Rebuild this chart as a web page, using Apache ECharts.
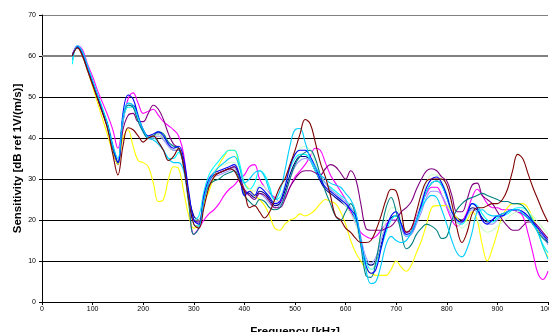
<!DOCTYPE html>
<html>
<head>
<meta charset="utf-8">
<script src="https://cdn.jsdelivr.net/npm/echarts@6/dist/echarts.min.js"></script>
<style>
  html, body { margin: 0; padding: 0; background: #fff; }
  #chart { width: 549px; height: 332px; }
</style>
</head>
<body>
<div id="chart"></div>
<script>
// frequency grid, kHz (60..1000 step 10)
const freqs = [];
for (let f = 60; f <= 1000; f += 10) freqs.push(f);

const navy = [
  60.5, 62, 60, 56.5, 53, 49.5, 46, 42.5, 37, 33.5,
  44, 48, 48, 45, 42, 40.5, 40.5, 41, 40, 38,
  37, 37, 34, 26, 21, 20, 25.5, 29.5, 31, 31.5,
  32, 32.5, 33, 30.5, 27, 26.5, 25.5, 27, 26.5, 25,
  23.5, 24, 27, 31, 34, 35.5, 35.5, 34.5, 32, 29.5,
  27.5, 26.5, 25.5, 24.5, 23.5, 22, 20, 14, 10, 9,
  10, 14, 18, 20.5, 21, 19, 17, 17.5, 20, 23.5,
  27, 29, 29.5, 28.5, 25.5, 22, 20.5, 20, 21.5, 23,
  22.5, 20.5, 19.5, 20, 21, 21.5, 22, 22.5, 22, 21.5,
  20.5, 19, 17.5, 16, 14.5
];
const magenta = [
  60, 62.5, 61.5, 58, 55, 51.5, 48.5, 45.5, 42, 37.5,
  44, 49.5, 51, 48.5, 46, 46.5, 47, 45.5, 44, 43,
  42, 40.5, 36, 25, 16.5, 18, 20, 21.5, 22.5, 24,
  26, 27.5, 28.5, 30, 31, 33, 33.5, 30, 28, 26.5,
  25.5, 24.5, 25.5, 28, 30.5, 32, 33.5, 35.5, 37.5, 37,
  34, 31, 29, 27, 25, 22, 19, 17, 16, 15.5,
  16, 17.5, 19, 20, 20, 18.5, 17, 18, 21, 24,
  26.5, 28, 28, 26, 23, 20, 18.5, 19.5, 22, 25.5,
  27.5, 26, 24, 23, 23, 22.5, 22.5, 22.5, 22, 21,
  17, 12, 7, 5.5, 7.5
];
const yellow = [
  60, 62, 60, 56.5, 52.5, 48.5, 44.5, 40.5, 36.5, 33.5,
  40, 42, 38, 34.5, 34, 33, 29, 24.5, 25, 30,
  33, 32.5, 27, 21, 18, 19, 24, 27, 30.5, 33.5,
  35.5, 37, 37, 33, 29, 27.5, 26, 25, 23.5, 21,
  18, 17.5, 19, 20, 20.5, 21.5, 21, 21.5, 22.5, 24,
  25, 24.5, 24, 22, 19, 15, 12, 10, 8, 7,
  6.5, 6.5, 6.5, 8, 10, 8.5, 7.5, 9, 12, 15,
  19, 23, 23.5, 23.5, 23.5, 22, 20.5, 19.5, 20, 22,
  20, 14, 10, 13, 17, 21, 23, 24, 24, 24,
  23, 20.5, 17.5, 13.5, 11
];
const cyan = [
  58, 62.5, 61, 57.5, 54, 50.5, 47, 43.5, 38.5, 34.5,
  44, 47.5, 47.5, 44.5, 41.5, 40, 40, 39, 37, 35,
  35, 36.5, 33.5, 26, 20, 21, 27, 31, 33, 34.5,
  36, 37, 37, 34, 29, 27.5, 29, 32, 31, 28,
  25, 25.5, 28.5, 32.5, 35, 36, 36, 34.5, 32, 30,
  29, 28, 27, 26, 25, 23, 20, 15, 10, 8,
  9, 13, 17, 20, 21, 18.5, 16, 16.5, 19.5, 23,
  27, 29, 29.5, 28.5, 25.5, 22, 19.5, 19, 21, 24,
  23.5, 21.5, 20, 19.5, 20.5, 21, 21.5, 22.5, 23, 23,
  22, 20, 17, 14, 12
];
const purple = [
  60, 62, 60.5, 57, 53.5, 50, 46.5, 43, 37.5, 34,
  42, 45.5, 46, 44, 44, 46, 48, 47, 44.5, 41,
  38.5, 37.5, 34, 26, 20, 19.5, 25, 29.5, 31, 31.5,
  32, 32.5, 33, 31, 27.5, 26, 25, 26.5, 26, 24.5,
  23, 23, 25, 28, 30, 31.5, 32, 32, 31.5, 31,
  32.5, 33.5, 33, 31.5, 30, 32, 30, 24, 18, 17.5,
  17.5, 17.5, 18, 18.5, 20, 22, 23, 24.5, 27.5, 30,
  32, 32.5, 32, 30.5, 29.5, 26, 22, 22, 25, 28.5,
  29, 26, 25, 24, 22, 20, 18.5, 17.5, 17.5, 18.5,
  19.5, 19.5, 18.5, 17, 15.5
];
const maroon = [
  60, 62, 60, 56.5, 53, 49.5, 46, 42, 36, 31,
  38, 42.5, 42, 40.5, 39, 40, 40.5, 39, 37, 34.5,
  35.5, 37.5, 33, 25, 19, 18, 23, 28, 30.5, 31.5,
  32, 32.5, 32, 29.5, 27, 23, 23.5, 22, 20.5, 22,
  25, 28, 30, 33.5, 37, 41, 44.5, 43.5, 39, 34,
  30.5, 26, 21, 20, 18, 17, 15.5, 14.5, 14.5, 15,
  17.5, 21, 25, 27.5, 27, 22, 17, 18, 22, 26.5,
  29.5, 30, 30, 30, 28.5, 24, 18, 14.5, 17, 21.5,
  23, 23, 23.5, 24, 24, 25, 27.5, 32, 36, 35,
  31.5, 28, 25, 22, 19.5
];
const teal = [
  60, 62, 60.5, 57, 53.5, 50, 46.5, 43, 37.5, 34,
  45, 48, 47.5, 44, 41.5, 40, 40.5, 41.5, 41, 39,
  38, 37.5, 33, 24, 16.5, 18, 25, 28.5, 29.5, 30,
  31, 31.5, 32, 30, 26, 24.5, 23.5, 25, 24.5, 23,
  22.5, 23, 26, 30, 33.5, 35.5, 36.5, 37, 35, 31,
  27, 24, 21, 20, 22, 24, 21, 14, 6.5, 6,
  10, 17, 23, 25.5, 22, 17, 13, 14, 16.5, 18,
  19, 18.5, 17.5, 15.5, 16, 20, 22.5, 24, 25, 25.5,
  26, 26.5, 26, 25.5, 25, 24.5, 24.5, 24, 24, 23.5,
  22, 19.5, 17, 15.5, 14.5
];
const blue = [
  60, 62.3, 60.5, 57, 53.5, 50, 46.5, 43, 38, 34,
  46, 50.5, 49.5, 45.5, 42, 40.5, 41, 41.5, 40.5, 38.5,
  37.5, 38, 35, 27, 20, 19, 26, 30, 31.5, 32,
  32.5, 33, 33.5, 31, 26, 27, 26, 28, 27, 25.5,
  24, 24.5, 28, 33, 36, 37, 37, 35.5, 33, 30,
  28, 27, 26, 25, 24, 22.5, 21, 15, 9, 7,
  8, 13, 18, 21, 22, 19, 16.5, 17, 20, 24,
  28, 30, 30.5, 29, 26, 22, 20, 19.5, 21.5, 24,
  23, 20, 19, 20, 21, 21, 22, 22.5, 22.5, 22,
  21, 19.5, 18, 16.5, 15
];
const sky = [
  59, 62.5, 61, 57.5, 54, 50.5, 47, 43, 38, 35,
  45, 48.5, 48, 45, 42, 40, 39.5, 38.5, 37, 35,
  34, 34, 32, 25, 19, 18.5, 25, 29.5, 31.5, 33,
  34, 35, 35.5, 33, 29, 30, 31.5, 32, 30.5, 27,
  25, 27, 32, 38, 42, 42.3, 39, 35, 33, 31,
  30, 29, 28.5, 28, 26.5, 25, 22, 15, 8, 4.5,
  5, 9, 14, 16, 15, 14.5, 15, 17, 20, 23,
  25, 26, 25.5, 22.5, 19, 15, 12, 11, 13, 17,
  22, 22.5, 21.5, 21, 21, 21.5, 22, 22.5, 22.5, 21.5,
  20.5, 19, 17, 13.5, 10.5
];
const lightGreen = [
  60, 62, 60.5, 57, 53.5, 50, 46.5, 43, 38, 34.5,
  45, 48, 47.5, 44.5, 42, 40.5, 40.5, 41, 40, 38,
  37, 37.5, 34, 26, 20, 20, 26, 30, 32, 33,
  33.5, 34, 34, 31.5, 27, 27.5, 27, 28.5, 28, 26,
  24.5, 25, 28.5, 33, 36, 37.5, 38, 37, 34, 31,
  29, 27.5, 26, 25, 23.5, 21.5, 19, 14, 9, 8,
  10, 15, 20, 23, 23, 20, 17.5, 17.5, 20.5, 25,
  29, 31, 31, 29.5, 26.5, 22.5, 19.5, 18, 19, 20.5,
  20, 18, 17, 17.5, 18.5, 19.5, 20.5, 21.5, 22, 22.5,
  22, 21, 19.5, 18, 16.5
];
const lavender = [
  60, 62, 60.5, 57, 53.5, 50, 46.5, 43, 37.5, 34,
  44.5, 48, 47.5, 44, 41.5, 40, 40, 40.5, 39.5, 38,
  37, 37, 33.5, 25.5, 20, 19.5, 25, 29, 30.5, 31,
  31.5, 32, 32.5, 30, 26.5, 26, 25, 26.5, 25.5, 24,
  23, 23.5, 26, 30, 33, 34.5, 35, 34.5, 33, 31,
  29, 27.5, 26.5, 25.5, 24.5, 23, 21.5, 16, 11, 9.5,
  11, 15, 18.5, 20, 20, 18, 16, 16.5, 19, 22,
  25.5, 27, 27, 26, 23.5, 21, 19.5, 19.5, 21, 22.5,
  22, 20, 19, 19, 20, 21, 22, 22.5, 22.5, 22,
  21, 19.5, 18, 16, 14
];

const seriesList = [
  { name: "S1", color: "#000080", values: navy },
  { name: "S2", color: "#FF00FF", values: magenta },
  { name: "S3", color: "#FFFF00", values: yellow },
  { name: "S4", color: "#00FFFF", values: cyan },
  { name: "S5", color: "#CCFFCC", values: lightGreen },
  { name: "S6", color: "#9999FF", values: lavender },
  { name: "S7", color: "#800080", values: purple },
  { name: "S8", color: "#008080", values: teal },
  { name: "S9", color: "#0000FF", values: blue },
  { name: "S10", color: "#00CCFF", values: sky },
  { name: "S11", color: "#800000", values: maroon },
]

const yTicks = [0, 10, 20, 30, 40, 50, 60, 70]
const gridColors = yTicks.map((v) => (v >= 60 ? "#808080" : "#000000"))

const chart = echarts.init(document.getElementById("chart"))

const option = {
  backgroundColor: "#ffffff",
  animation: false,
  grid: { left: 42, right: 1, top: 15, bottom: 30, outerBoundsMode: "none", containLabel: false },
  xAxis: {
    type: "value",
    min: 0,
    max: 1000,
    interval: 100,
    name: "Frequency [kHz]",
    nameLocation: "middle",
    nameGap: 24,
    nameMoveOverlap: false,
    nameTextStyle: { fontFamily: "Liberation Sans", fontSize: 11.5, fontWeight: "bold", color: "#000" },
    axisLine: { lineStyle: { color: "#000", width: 1 } },
    axisTick: { length: 3, lineStyle: { color: "#000" } },
    axisLabel: {
      fontFamily: "Liberation Sans", fontSize: 7, color: "#000", margin: 4,
      formatter: (v) => String(v),
    },
    splitLine: { show: false },
  },
  yAxis: {
    type: "value",
    min: 0,
    max: 70,
    interval: 10,
    name: "Sensitivity [dB ref 1V/(m/s)]",
    nameLocation: "middle",
    nameGap: 24,
    nameRotate: 90,
    nameMoveOverlap: false,
    nameTextStyle: {
      fontFamily: "Liberation Sans", fontSize: 11.5, fontWeight: "bold", color: "#000",
      verticalAlign: "middle",
    },
    axisLine: { show: true, lineStyle: { color: "#000", width: 1 } },
    axisTick: { show: true, length: 3, lineStyle: { color: "#000" } },
    axisLabel: { fontFamily: "Liberation Sans", fontSize: 7, color: "#000", margin: 6 },
    splitLine: { show: true, lineStyle: { color: gridColors, width: 1 } },
  },
  series: seriesList.map((s, i) => ({
    name: s.name,
    type: "line",
    smooth: 0.4,
    showSymbol: false,
    silent: true,
    z: 2 + i,
    lineStyle: { width: 1.1, color: s.color },
    itemStyle: { color: s.color },
    data: freqs.map((f, k) => [f, s.values[k]]),
    markLine: i === 0 ? {
      silent: true,
      symbol: "none",
      label: { show: false },
      lineStyle: { color: "#808080", width: 2, type: "solid" },
      data: [{ yAxis: 60 }],
      z: 1,
    } : undefined,
  })),
}

chart.setOption(option)
</script>
</body>
</html>
